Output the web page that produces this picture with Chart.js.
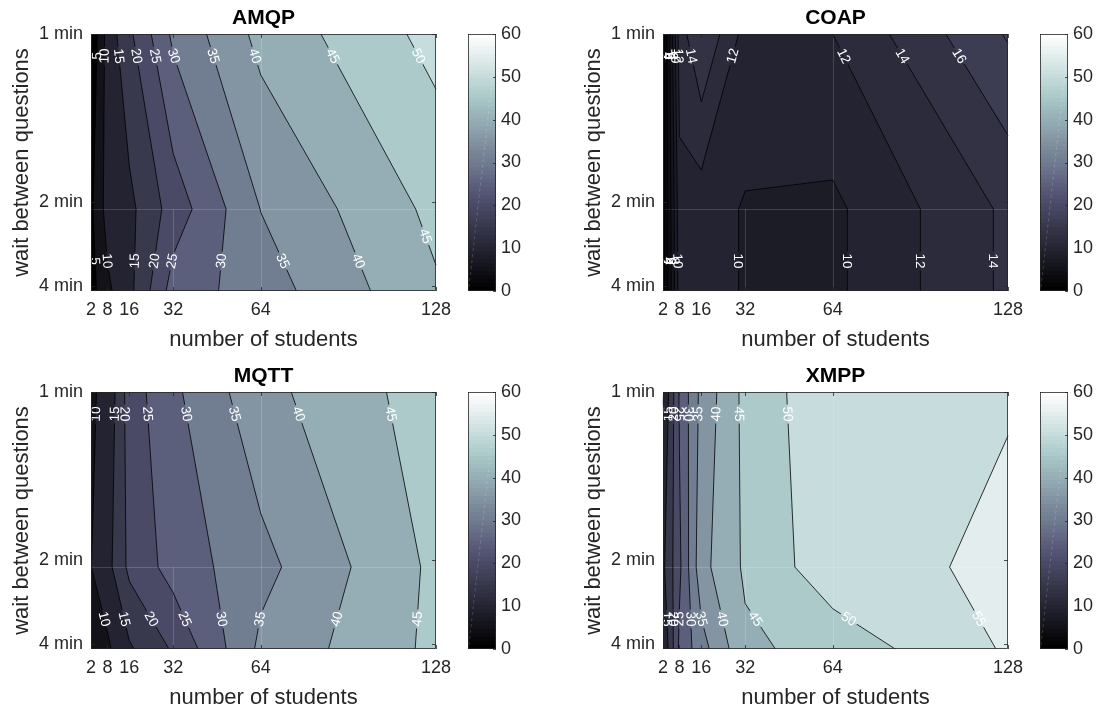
<!DOCTYPE html>
<html>
<head>
<meta charset="utf-8">
<script src="https://cdn.jsdelivr.net/npm/chart.js@4.4.1/dist/chart.umd.min.js"></script>
<style>
  html, body { margin: 0; padding: 0; background: #ffffff; }
  #fig { position: relative; width: 1099px; height: 713px; overflow: hidden; background: #ffffff; }
  #fig canvas { position: absolute; left: 0; top: 0; }
</style>
</head>
<body>
<div id="fig">
  <canvas id="amqp" width="1099" height="713"></canvas>
  <canvas id="amqpBar" width="1099" height="713"></canvas>
  <canvas id="coap" width="1099" height="713"></canvas>
  <canvas id="coapBar" width="1099" height="713"></canvas>
  <canvas id="mqtt" width="1099" height="713"></canvas>
  <canvas id="mqttBar" width="1099" height="713"></canvas>
  <canvas id="xmpp" width="1099" height="713"></canvas>
  <canvas id="xmppBar" width="1099" height="713"></canvas>
</div>
<script>
// ---- measurement grid -------------------------------------------------
const students = [2, 8, 16, 32, 64, 128];
const studentTicks = [2, 8, 16, 32, 64, 128];
// question rate (per minute) of the three wait settings, top row first
const questionsPerMinute = [1, 0.48, 0.2366];
const waitTickValues = [1, 0.5, 0.25];
const waitTickLabels = ['1 min', '2 min', '4 min'];
const colorbarTicks = [0, 10, 20, 30, 40, 50, 60];

// values per wait setting, one entry per student count
const amqp1min = [0.5, 12, 19, 31, 41.5, 51.7];
const amqp2min = [4, 12, 13.7, 22.2, 35.1, 46.3];
const amqp4min = [3, 9, 13.6, 27.2, 32.6, 44.4];

const coap1min = [1, 13, 16, 11.3, 12, 18.2];
const coap2min = [1, 11.3, 10.85, 9.85, 9.6, 14.4];
const coap4min = [1, 11, 10.85, 9.85, 9.6, 14.4];

const mqtt1min = [9.5, 11, 22.5, 29, 38.4, 47.6];
const mqtt2min = [9.9, 13.3, 21.2, 27, 33.5, 46.1];
const mqtt4min = [6, 9.1, 14.3, 20.6, 36.1, 46.2];

const xmpp1min = [9.5, 25.5, 36.5, 46.4, 54, 54.7];
const xmpp2min = [14, 24, 38.4, 45.8, 53.2, 55.9];
const xmpp4min = [10, 26, 33, 44, 46.9, 55.6];

// ---- styling ----------------------------------------------------------
const FONT = "'Liberation Sans', Arial, Helvetica, sans-serif";
const INK = '#262626';
const CMAX = 60;

// MATLAB-style "bone" colormap with 64 entries
function bone(t) {
  t = Math.min(1, Math.max(0, t));
  const hr = Math.min(1, t / 0.375);
  const hg = Math.min(1, Math.max(0, (t - 0.375) / 0.375));
  const hb = Math.max(0, (t - 0.75) / 0.25);
  return [(7 * t + hb) / 8, (7 * t + hg) / 8, (7 * t + hr) / 8];
}
function mapIndex(v) { return Math.min(63, Math.max(0, Math.floor(v / CMAX * 64))); }
function rgbOf(idx) {
  const c = bone(idx / 63);
  return 'rgb(' + c.map(u => Math.round(u * 255)).join(',') + ')';
}
function levelColor(v) { return rgbOf(mapIndex(v)); }

const panels = [
  { id: 'amqp', title: 'AMQP', rows: [amqp1min, amqp2min, amqp4min], step: 5,
    area: { l: 91, t: 34, r: 436, b: 291 }, bar: { l: 468, r: 496 } },
  { id: 'coap', title: 'COAP', rows: [coap1min, coap2min, coap4min], step: 2,
    area: { l: 663, t: 34, r: 1008, b: 291 }, bar: { l: 1040, r: 1068 } },
  { id: 'mqtt', title: 'MQTT', rows: [mqtt1min, mqtt2min, mqtt4min], step: 5,
    area: { l: 91, t: 392, r: 436, b: 649 }, bar: { l: 468, r: 496 } },
  { id: 'xmpp', title: 'XMPP', rows: [xmpp1min, xmpp2min, xmpp4min], step: 5,
    area: { l: 663, t: 392, r: 1008, b: 649 }, bar: { l: 1040, r: 1068 } }
];

// ---- contour geometry (marching squares on the measurement grid) -------
function lerpPt(a, b, L) {
  const t = (L - a[2]) / (b[2] - a[2]);
  return [a[0] + t * (b[0] - a[0]), a[1] + t * (b[1] - a[1])];
}
function corners(X, Y, Z, i, j) {
  return [
    [X[i], Y[j], Z[j][i]],
    [X[i + 1], Y[j], Z[j][i + 1]],
    [X[i + 1], Y[j + 1], Z[j + 1][i + 1]],
    [X[i], Y[j + 1], Z[j + 1][i]]
  ];
}
function abovePolygon(c, L) {
  const out = [];
  for (let k = 0; k < 4; k++) {
    const a = c[k], b = c[(k + 1) % 4];
    const ia = a[2] >= L, ib = b[2] >= L;
    if (ia) out.push([a[0], a[1]]);
    if (ia !== ib) out.push(lerpPt(a, b, L));
  }
  return out;
}
function cellSegments(c, L) {
  const pts = [];
  for (let k = 0; k < 4; k++) {
    const a = c[k], b = c[(k + 1) % 4];
    if ((a[2] >= L) !== (b[2] >= L)) pts[k] = lerpPt(a, b, L);
  }
  const idx = [0, 1, 2, 3].filter(k => pts[k]);
  if (idx.length === 2) return [[pts[idx[0]], pts[idx[1]]]];
  if (idx.length === 4) {
    const center = (c[0][2] + c[1][2] + c[2][2] + c[3][2]) / 4;
    if ((center >= L) === (c[0][2] >= L)) return [[pts[0], pts[1]], [pts[2], pts[3]]];
    return [[pts[3], pts[0]], [pts[1], pts[2]]];
  }
  return [];
}
function crossingsAt(segs, yt) {
  const hits = [];
  segs.forEach(([p, q]) => {
    if (p[1] === q[1]) return;
    if ((p[1] - yt) * (q[1] - yt) > 0) return;
    const t = (yt - p[1]) / (q[1] - p[1]);
    let ang = Math.atan2(q[1] - p[1], q[0] - p[0]);
    if (ang > Math.PI / 2) ang -= Math.PI;
    if (ang <= -Math.PI / 2) ang += Math.PI;
    hits.push({ x: p[0] + t * (q[0] - p[0]), y: yt, ang });
  });
  return hits.sort((u, v) => u.x - v.x);
}

function makeContourPlugin(panel) {
  return {
    id: 'contour_' + panel.id,
    beforeDatasetsDraw(chart) {
      const { ctx, chartArea: a, scales: { x: xs, y: ys } } = chart;
      const X = students.map(v => xs.getPixelForValue(v));
      const Y = questionsPerMinute.map(v => ys.getPixelForValue(v));
      const Z = panel.rows;
      const all = Z.flat();
      const zmin = Math.min(...all), zmax = Math.max(...all);
      const levels = [];
      for (let L = 0; L <= CMAX + 1e-9; L += panel.step) levels.push(L);

      ctx.save();
      // filled bands
      let base = levels[0];
      levels.forEach(L => { if (L <= zmin) base = L; });
      ctx.fillStyle = levelColor(base);
      ctx.fillRect(X[0], Y[0], X[X.length - 1] - X[0], Y[Y.length - 1] - Y[0]);
      levels.forEach(L => {
        if (L <= base || L > zmax) return;
        ctx.beginPath();
        for (let j = 0; j < Y.length - 1; j++) {
          for (let i = 0; i < X.length - 1; i++) {
            const poly = abovePolygon(corners(X, Y, Z, i, j), L);
            if (poly.length < 3) continue;
            ctx.moveTo(poly[0][0], poly[0][1]);
            for (let k = 1; k < poly.length; k++) ctx.lineTo(poly[k][0], poly[k][1]);
            ctx.closePath();
          }
        }
        ctx.fillStyle = levelColor(L);
        ctx.fill('nonzero');
      });

      // faint patch seams along the middle row and the 32 / 64 columns
      ctx.strokeStyle = 'rgba(255,255,255,0.16)';
      ctx.lineWidth = 1;
      ctx.beginPath();
      ctx.moveTo(a.left, Math.round(Y[1]) + 0.5); ctx.lineTo(a.right, Math.round(Y[1]) + 0.5);
      const x64 = Math.round(X[4]) + 0.5, x32 = Math.round(X[3]) + 0.5;
      ctx.moveTo(x64, a.top); ctx.lineTo(x64, a.bottom);
      ctx.moveTo(x32, Y[1]); ctx.lineTo(x32, a.bottom);
      ctx.stroke();

      // contour segments and label spots
      const lineLevels = levels.filter(L => L > zmin && L < zmax);
      const targets = [a.top + 22, a.bottom - 30];
      const segsByLevel = new Map();
      const labels = [];
      ctx.font = '13.5px ' + FONT;
      lineLevels.forEach(L => {
        const segs = [];
        for (let j = 0; j < Y.length - 1; j++)
          for (let i = 0; i < X.length - 1; i++)
            segs.push(...cellSegments(corners(X, Y, Z, i, j), L));
        segsByLevel.set(L, segs);
        targets.forEach(yt => {
          let lastX = -1e9;
          crossingsAt(segs, yt).forEach(h0 => {
            let h = h0;
            // keep labels clear of the right-hand box edge
            if (a.right - h.x < 9) {
              const alt = crossingsAt(segs, yt - 25).filter(u => Math.abs(u.x - h0.x) < 30 && a.right - u.x >= 9);
              if (!alt.length) return;
              h = alt[0];
            }
            if (h.x - lastX < 25) return;
            lastX = h.x;
            const text = String(L);
            labels.push({ ...h, text, w: ctx.measureText(text).width + 4, h: 12 });
          });
        });
      });

      // lines, broken where labels sit
      const clip = new Path2D();
      clip.rect(a.left - 2, a.top - 2, a.right - a.left + 4, a.bottom - a.top + 4);
      labels.forEach(lb => {
        const c = Math.cos(lb.ang), s = Math.sin(lb.ang);
        const hw = lb.w / 2, hh = lb.h / 2;
        const pts = [[-hw, -hh], [hw, -hh], [hw, hh], [-hw, hh]].map(([u, v]) =>
          [lb.x + u * c - v * s, lb.y + u * s + v * c]);
        clip.moveTo(pts[0][0], pts[0][1]);
        for (let k = 1; k < 4; k++) clip.lineTo(pts[k][0], pts[k][1]);
        clip.closePath();
      });
      ctx.save();
      ctx.clip(clip, 'evenodd');
      ctx.strokeStyle = '#000000';
      ctx.lineWidth = 0.8;
      ctx.beginPath();
      segsByLevel.forEach(segs => segs.forEach(([p, q]) => { ctx.moveTo(p[0], p[1]); ctx.lineTo(q[0], q[1]); }));
      ctx.stroke();
      ctx.restore();

      // level labels
      ctx.fillStyle = '#ffffff';
      ctx.textAlign = 'center';
      ctx.textBaseline = 'middle';
      labels.forEach(lb => {
        ctx.save();
        ctx.translate(lb.x, lb.y);
        ctx.rotate(lb.ang);
        ctx.fillText(lb.text, 0, 0.5);
        ctx.restore();
      });

      // box with inward ticks
      ctx.strokeStyle = INK;
      ctx.lineWidth = 0.8;
      ctx.strokeRect(a.left + 0.5, a.top + 0.5, a.right - a.left - 1, a.bottom - a.top - 1);
      ctx.beginPath();
      studentTicks.forEach(v => {
        const px = Math.round(xs.getPixelForValue(v)) + 0.5;
        ctx.moveTo(px, a.bottom); ctx.lineTo(px, a.bottom - 4);
        ctx.moveTo(px, a.top); ctx.lineTo(px, a.top + 4);
      });
      waitTickValues.forEach(v => {
        const py = Math.round(ys.getPixelForValue(v)) + 0.5;
        ctx.moveTo(a.left, py); ctx.lineTo(a.left + 4, py);
        ctx.moveTo(a.right, py); ctx.lineTo(a.right - 4, py);
      });
      ctx.stroke();

      // panel title
      ctx.fillStyle = '#000000';
      ctx.font = 'bold 21px ' + FONT;
      ctx.textAlign = 'center';
      ctx.textBaseline = 'middle';
      ctx.fillText(panel.title, (a.left + a.right) / 2, a.top - 16);
      ctx.restore();
    }
  };
}

const colorbarPlugin = {
  id: 'colorbarFill',
  beforeDatasetsDraw(chart) {
    const { ctx, chartArea: a, scales: { y } } = chart;
    const y0 = y.getPixelForValue(0), y1 = y.getPixelForValue(CMAX);
    const g = ctx.createLinearGradient(0, y0, 0, y1);
    for (let k = 0; k < 64; k++) {
      g.addColorStop(k / 64, rgbOf(k));
      g.addColorStop(Math.min(1, (k + 1) / 64 - 0.0001), rgbOf(k));
    }
    ctx.save();
    ctx.fillStyle = g;
    ctx.fillRect(a.left, y1, a.right - a.left, y0 - y1);
    // faint rendering streak across the bar
    ctx.strokeStyle = 'rgba(255,255,255,0.22)';
    ctx.setLineDash([3, 3]);
    ctx.lineWidth = 0.8;
    ctx.beginPath();
    ctx.moveTo(a.left + 1, y0 - 4);
    ctx.lineTo(a.right - 1, y1 + 20);
    ctx.stroke();
    ctx.setLineDash([]);
    ctx.strokeStyle = INK;
    ctx.lineWidth = 0.8;
    ctx.strokeRect(a.left + 0.5, y1 + 0.5, a.right - a.left - 1, y0 - y1 - 1);
    ctx.beginPath();
    colorbarTicks.forEach(v => {
      const py = Math.round(y.getPixelForValue(v)) + 0.5;
      ctx.moveTo(a.right, py); ctx.lineTo(a.right - 3, py);
    });
    ctx.stroke();
    ctx.restore();
  }
};

const W = 1099, H = 713;
const Y_AXIS_W = 91, X_AXIS_H = 64;

panels.forEach(panel => {
  const A = panel.area;
  const points = [];
  panel.rows.forEach((row, j) => row.forEach((v, i) =>
    points.push({ x: students[i], y: questionsPerMinute[j], v })));

  new Chart(document.getElementById(panel.id), {
    type: 'scatter',
    data: { datasets: [{ data: points, pointRadius: 0, pointHoverRadius: 0, showLine: false }] },
    options: {
      responsive: false, animation: false, events: [],
      layout: { padding: { left: A.l - Y_AXIS_W, top: A.t, right: W - A.r, bottom: H - A.b - X_AXIS_H } },
      plugins: { legend: { display: false }, tooltip: { enabled: false }, title: { display: false } },
      scales: {
        x: {
          type: 'linear', min: students[0], max: students[students.length - 1],
          afterBuildTicks: s => { s.ticks = studentTicks.map(v => ({ value: v })); },
          afterFit: s => { s.height = X_AXIS_H; },
          grid: { display: false, drawTicks: false }, border: { display: false },
          ticks: { autoSkip: false, maxRotation: 0, minRotation: 0, padding: 8,
                   color: INK, font: { family: FONT, size: 18 }, callback: v => String(v) },
          title: { display: true, text: 'number of students', color: INK,
                   font: { family: FONT, size: 22 }, padding: { top: 0, bottom: 2 } }
        },
        y: {
          type: 'linear', min: questionsPerMinute[questionsPerMinute.length - 1], max: questionsPerMinute[0],
          afterBuildTicks: s => { s.ticks = waitTickValues.map(v => ({ value: v })); },
          afterFit: s => { s.width = Y_AXIS_W; },
          grid: { display: false, drawTicks: false }, border: { display: false },
          ticks: { autoSkip: false, padding: 8, color: INK, font: { family: FONT, size: 18 },
                   callback: v => {
                     const k = waitTickValues.findIndex(t => Math.abs(t - v) < 1e-9);
                     return k >= 0 ? waitTickLabels[k] : '';
                   } },
          title: { display: true, text: 'wait between questions', color: INK,
                   font: { family: FONT, size: 22 }, padding: { top: 9, bottom: 0 } }
        }
      }
    },
    plugins: [makeContourPlugin(panel)]
  });

  const B = panel.bar;
  const BAR_AXIS_W = 40;
  new Chart(document.getElementById(panel.id + 'Bar'), {
    type: 'scatter',
    data: { datasets: [] },
    options: {
      responsive: false, animation: false, events: [],
      layout: { padding: { left: B.l, top: A.t, right: W - B.r - BAR_AXIS_W, bottom: H - A.b } },
      plugins: { legend: { display: false }, tooltip: { enabled: false } },
      scales: {
        x: { display: false, min: 0, max: 1 },
        y: {
          position: 'right', min: 0, max: CMAX,
          afterBuildTicks: s => { s.ticks = colorbarTicks.map(v => ({ value: v })); },
          afterFit: s => { s.width = BAR_AXIS_W; },
          grid: { display: false, drawTicks: false }, border: { display: false },
          ticks: { autoSkip: false, padding: 5, color: INK, font: { family: FONT, size: 18 } }
        }
      }
    },
    plugins: [colorbarPlugin]
  });
});
</script>
</body>
</html>
